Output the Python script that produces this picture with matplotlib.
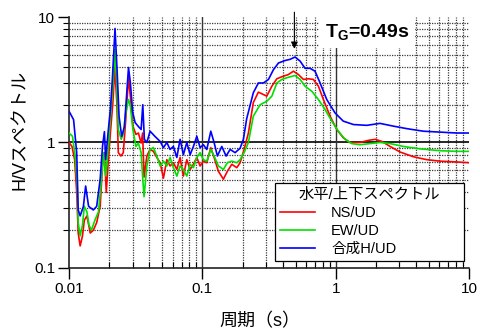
import matplotlib
matplotlib.use('Agg')
import matplotlib.pyplot as plt
from matplotlib.ticker import LogLocator, NullFormatter, FixedLocator, FixedFormatter

plt.rcParams['font.family'] = ['Liberation Sans', 'Noto Sans CJK JP', 'DejaVu Sans']
plt.rcParams['mathtext.fontset'] = 'custom'
plt.rcParams['mathtext.rm'] = 'Liberation Sans'
plt.rcParams['mathtext.bf'] = 'Liberation Sans:bold'

# periods (s) and H/V ratios
T_ns = [0.0100, 0.0105, 0.0110, 0.0114, 0.0117, 0.0121, 0.0126, 0.0130, 0.0136, 0.0144,
        0.0152, 0.0161, 0.0171, 0.0178, 0.0184, 0.0190, 0.0197, 0.0205, 0.0213, 0.0220,
        0.0228, 0.0234, 0.0245, 0.0255, 0.0266, 0.0279, 0.0288, 0.0301, 0.0317, 0.0331,
        0.0347, 0.0356, 0.0365, 0.0383, 0.0405, 0.0429, 0.0455, 0.0482, 0.0510, 0.0541,
        0.0572, 0.0606, 0.0643, 0.0680, 0.0720, 0.0764, 0.0809, 0.0856, 0.0908, 0.0961,
        0.1017, 0.1079, 0.1156, 0.1224, 0.1318, 0.1437, 0.1540, 0.1662, 0.1811, 0.1918,
        0.2055, 0.2213, 0.241, 0.263, 0.287, 0.304, 0.332, 0.362, 0.394, 0.442,
        0.482, 0.525, 0.573, 0.624, 0.680, 0.742, 0.809, 0.908, 1.019, 1.14,
        1.28, 1.52, 1.76, 1.98, 2.22, 2.56, 3.04, 3.83, 4.82, 6.07, 8.1, 10.0]
hv_ns = [1.00, 0.93, 0.73, 0.40, 0.19, 0.15, 0.18, 0.24, 0.26, 0.19,
         0.20, 0.23, 0.31, 0.65, 0.83, 0.40, 0.73, 1.27, 2.08, 4.00,
         2.08, 0.83, 0.78, 0.83, 1.52, 3.28, 2.34, 1.35, 1.16, 1.19,
         0.99, 1.19, 0.53, 0.78, 0.88, 0.85, 0.76, 0.69, 0.52, 0.73,
         0.65, 0.69, 0.61, 0.76, 0.54, 0.73, 0.61, 0.67, 0.76, 0.65,
         0.71, 0.69, 0.91, 0.76, 0.59, 0.51, 0.59, 0.67, 0.63, 0.69,
         0.88, 1.19, 2.08, 2.52, 2.41, 2.34, 2.81, 3.22, 3.34, 3.48,
         3.70, 3.48, 3.18, 3.22, 3.18, 2.81, 2.20, 1.62, 1.27, 1.09,
         1.00, 1.00, 1.04, 1.06, 1.02, 0.93, 0.84, 0.77, 0.73, 0.71, 0.70, 0.69]

T_ew = [0.0100, 0.0106, 0.0111, 0.0115, 0.0117, 0.0121, 0.0126, 0.0130, 0.0136, 0.0141,
        0.0147, 0.0156, 0.0166, 0.0174, 0.0181, 0.0188, 0.0197, 0.0205, 0.0213, 0.0220,
        0.0228, 0.0234, 0.0246, 0.0256, 0.0266, 0.0279, 0.0288, 0.0301, 0.0317, 0.0331,
        0.0347, 0.0357, 0.0365, 0.0383, 0.0405, 0.0429, 0.0455, 0.0482, 0.0510, 0.0541,
        0.0572, 0.0606, 0.0643, 0.0680, 0.0720, 0.0764, 0.0809, 0.0856, 0.0908, 0.0961,
        0.1017, 0.1079, 0.1156, 0.1224, 0.1318, 0.1437, 0.1540, 0.1662, 0.1811, 0.1918,
        0.2055, 0.2213, 0.241, 0.271, 0.304, 0.332, 0.362, 0.394, 0.442, 0.496,
        0.541, 0.589, 0.662, 0.742, 0.833, 0.935, 1.048, 1.176, 1.32, 1.52,
        1.81, 2.15, 2.56, 3.22, 4.30, 6.07, 8.1, 10.0]
hv_ew = [1.19, 1.12, 0.78, 0.45, 0.23, 0.18, 0.22, 0.31, 0.28, 0.22,
         0.20, 0.24, 0.28, 0.48, 0.83, 0.54, 0.93, 1.72, 2.81, 5.50,
         2.81, 1.27, 1.06, 1.19, 1.72, 2.20, 1.95, 1.27, 0.93, 0.99,
         0.83, 0.51, 0.37, 0.65, 0.88, 0.91, 0.78, 0.65, 0.71, 0.65,
         0.76, 0.63, 0.54, 0.65, 0.61, 0.54, 0.67, 0.63, 0.76, 0.83,
         0.73, 0.71, 0.88, 0.78, 0.65, 0.61, 0.69, 0.71, 0.69, 0.73,
         0.83, 1.00, 1.62, 2.00, 2.13, 2.34, 2.98, 3.18, 3.31, 3.42,
         3.18, 2.81, 2.56, 2.20, 1.83, 1.48, 1.23, 1.06, 0.98, 0.96,
         0.98, 1.00, 0.98, 0.93, 0.89, 0.86, 0.85, 0.85]

T_h = [0.0100, 0.0108, 0.0114, 0.0117, 0.0121, 0.0128, 0.0133, 0.0140, 0.0152, 0.0161,
       0.0171, 0.0178, 0.0184, 0.0188, 0.0197, 0.0204, 0.0211, 0.0221, 0.0229, 0.0237,
       0.0248, 0.0260, 0.0279, 0.0288, 0.0300, 0.0313, 0.0331, 0.0347, 0.0357, 0.0367,
       0.0383, 0.0405, 0.0440, 0.0482, 0.0510, 0.0541, 0.0572, 0.0606, 0.0643, 0.0680,
       0.0720, 0.0764, 0.0809, 0.0856, 0.0908, 0.0961, 0.1017, 0.1079, 0.1156, 0.1224,
       0.1296, 0.1398, 0.1506, 0.1614, 0.1760, 0.1918, 0.2030, 0.215, 0.241, 0.263,
       0.287, 0.313, 0.341, 0.372, 0.417, 0.455, 0.496, 0.541, 0.589, 0.643,
       0.700, 0.764, 0.857, 0.989, 1.14, 1.36, 1.71, 2.15, 2.71, 3.41,
       4.55, 6.07, 8.1, 10.0]
hv_h = [1.77, 1.52, 0.83, 0.29, 0.26, 0.31, 0.45, 0.31, 0.29, 0.31,
        0.51, 0.93, 1.22, 0.73, 1.27, 1.83, 3.18, 8.10, 3.80, 1.61,
        1.12, 1.34, 3.96, 3.00, 1.73, 1.44, 1.34, 1.27, 2.00, 1.06,
        1.00, 1.23, 1.12, 1.02, 0.91, 1.00, 0.88, 0.93, 0.76, 1.06,
        0.80, 1.00, 0.80, 0.93, 1.12, 0.91, 0.96, 0.88, 1.23, 1.00,
        0.78, 0.93, 0.78, 0.88, 0.83, 0.90, 1.06, 1.55, 2.49, 2.98,
        2.98, 3.18, 3.80, 4.30, 4.50, 4.60, 4.80, 4.45, 3.90, 3.90,
        3.70, 2.98, 2.20, 1.72, 1.48, 1.39, 1.37, 1.42, 1.35, 1.29,
        1.23, 1.21, 1.19, 1.19]

T_G = 0.49
x_ticks = [0.01, 0.1, 1, 10]
x_labels = ['0.01', '0.1', '1', '10']
y_ticks = [0.1, 1, 10]
y_labels = ['0.1', '1', '10']

fig = plt.figure(figsize=(4.8, 3.36), dpi=100)
ax = fig.add_axes([0.144, 0.2024, 0.833, 0.747])

ax.plot(T_ns, hv_ns, color='#ff0000', lw=1.2, label='NS/UD', zorder=3)
ax.plot(T_ew, hv_ew, color='#00e000', lw=1.2, label='EW/UD', zorder=3)
ax.plot(T_h, hv_h, color='#0000ff', lw=1.2, label='合成H/UD', zorder=3)

ax.set_xscale('log')
ax.set_yscale('log')
ax.set_xlim(0.01, 10)
ax.set_ylim(0.1, 10)

ax.xaxis.set_major_locator(FixedLocator(x_ticks))
ax.xaxis.set_major_formatter(FixedFormatter(x_labels))
ax.yaxis.set_major_locator(FixedLocator(y_ticks))
ax.yaxis.set_major_formatter(FixedFormatter(y_labels))
ax.xaxis.set_minor_locator(LogLocator(base=10, subs=range(2, 10)))
ax.yaxis.set_minor_locator(LogLocator(base=10, subs=range(2, 10)))
ax.xaxis.set_minor_formatter(NullFormatter())
ax.yaxis.set_minor_formatter(NullFormatter())

ax.grid(which='minor', ls=(0, (1, 1)), color='#3a3a3a', lw=0.9, zorder=1)
ax.axhline(1, color='black', lw=1.2, zorder=2)
ax.axvline(0.1, color='#333333', lw=1.0, zorder=2)
ax.axvline(1, color='#333333', lw=1.0, zorder=2)

for s in ['top', 'right']:
    ax.spines[s].set_visible(False)
for s in ['left', 'bottom']:
    ax.spines[s].set_color('#222222')
    ax.spines[s].set_linewidth(1.2)

ax.tick_params(which='major', labelsize=11, length=8, width=1, pad=2)
ax.tick_params(axis='x', which='minor', direction='in', length=4, width=0.8)
ax.tick_params(axis='y', which='minor', direction='out', length=4, width=0.8)

fig.text(0.042, 0.613, 'H/Vスペクトル', rotation=90, ha='center', va='center', fontsize=13)
fig.text(0.542, 0.042, '周期（s）', ha='center', va='center', fontsize=13)

ax.annotate('', xy=(T_G, 5.3), xytext=(T_G, 11.5),
            arrowprops=dict(arrowstyle='-|>', color='black', lw=0.8, mutation_scale=10),
            annotation_clip=False, zorder=6)
ax.text(1.72, 7.5, r'$\mathbf{T}_\mathbf{G}$' + '=%.2fs' % T_G, ha='center', va='center',
        fontsize=14, fontweight='bold',
        bbox=dict(facecolor='white', edgecolor='none', pad=4), zorder=5)

leg = ax.legend(title='水平/上下スペクトル', loc='upper left',
                bbox_to_anchor=(0.515, 0.02, 0.4725, 0.319), mode='expand',
                borderaxespad=0, fancybox=False, edgecolor='black', framealpha=1,
                fontsize=10.5, title_fontsize=11, handlelength=2.4,
                handletextpad=1.1, labelspacing=0.28, borderpad=0.35)
leg.get_frame().set_linewidth(0.9)
leg.set_zorder(7)

fig.savefig('out.png', dpi=100)
